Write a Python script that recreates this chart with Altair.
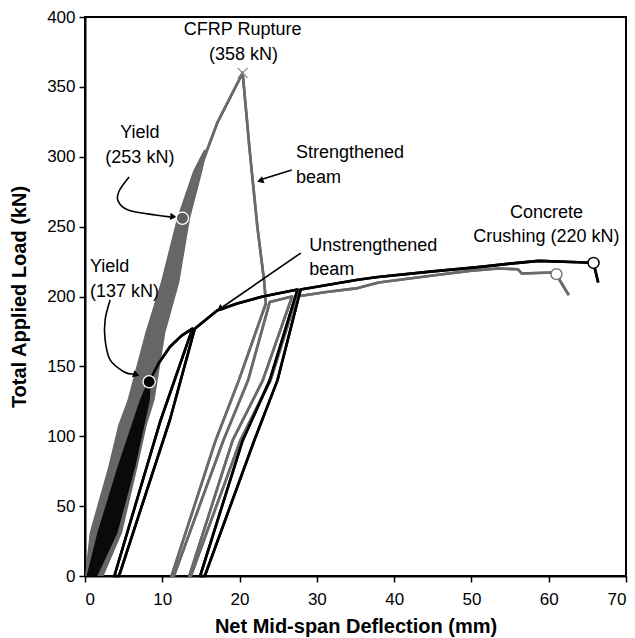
import altair as alt
import pandas as pd

FONT = "Liberation Sans"
GRAY = "#6a6a6a"
BLACK = "#000000"

# ---- Strengthened beam (gray): dense service cycles region ----
gw_load = [0, 31, 78, 108, 126, 174, 210, 256, 290, 305]
gw_left = [0.0, 0.6, 3.0, 4.3, 5.5, 7.8, 9.8, 11.9, 14.0, 15.4]
gw_right = [2.4, 4.8, 6.8, 8.0, 9.0, 10.4, 12.2, 13.6, 15.2, 15.8]

# ---- Unstrengthened beam (black): initial cycles region ----
bw_load = [0, 31, 78, 126, 139]
bw_left = [0.2, 1.6, 4.2, 7.1, 8.1]
bw_right = [1.6, 4.2, 6.5, 8.4, 8.5]

# ---- Strengthened beam path after service cycles ----
s_defl = [12.6, 14.8, 17.1, 20.4, 21.3, 22.3, 23.2, 23.4,
          19.9, 16.9, 11.2, 11.5, 17.9, 21.1, 23.9, 26.8,
          23.0, 19.1, 13.5, 13.7, 20.1, 24.0, 27.4,
          31.0, 35.3, 38.0, 45.0, 50.0, 53.5, 56.0, 56.5, 60.4, 61.0, 61.6, 62.6]
s_load = [256, 290, 324, 360, 305, 250, 210, 195,
          140, 97, 0, 0, 97, 140, 196, 200,
          140, 97, 0, 0, 97, 140, 200,
          203, 206, 210, 215, 218.5, 220, 219.5, 216.5, 217.2, 216, 210, 201]

# ---- Unstrengthened beam path after yield ----
u_defl = [8.3, 9.5, 11.0, 12.5, 13.9, 9.7, 3.8, 4.4, 11.0, 14.2,
          17.1, 19.7, 23.0, 27.5, 23.9, 20.4, 14.9, 15.5, 21.9, 24.9, 27.9,
          30.0, 35.3, 37.9, 45.0, 50.9, 55.0, 58.7, 63.9, 65.8, 66.4]
u_load = [139, 152, 164, 172, 177, 110, 0, 0, 112, 177,
          190, 195, 200, 205, 140, 97, 0, 0, 97, 140, 205,
          207, 212, 214, 218, 221, 223.5, 225.5, 224.5, 224, 210]

# ---- Key points ----
yield_s = (12.6, 256)
yield_u = (8.3, 139)
rupture = (20.4, 360)
crush_s = (61.0, 216)
crush_u = (65.8, 224)

# ---- Annotation texts ----
txt_label = ["CFRP Rupture", "(358 kN)", "Yield", "(253 kN)", "Strengthened", "beam",
             "Unstrengthened", "beam", "Yield", "(137 kN)", "Concrete", "Crushing (220 kN)"]
txt_x = [20.4, 20.5, 7.1, 7.1, 27.3, 27.3, 29.0, 29.0, 0.65, 0.65, 59.7, 59.7]
txt_y = [390.7, 372.8, 317.0, 299.1, 302.7, 284.8, 236.1, 219.0, 221.1, 203.2, 259.7, 242.6]
txt_align = ["center", "center", "center", "center", "left", "left",
             "left", "left", "left", "left", "center", "center"]

# ---- Arrow paths (deflection, load) ----
arr1_x = [5.71, 4.42, 4.29, 5.58, 9.09, 11.0]
arr1_y = [285.5, 275.5, 268.3, 261.9, 258.3, 257.0]
arr2_x = [3.25, 2.60, 2.60, 3.25, 5.06, 6.3]
arr2_y = [197.5, 183.2, 168.9, 154.6, 146.0, 144.4]
arr3_x = [26.75, 22.6]
arr3_y = [290.5, 283.4]
arr4_x = [27.92, 17.8]
arr4_y = [231.1, 192.5]
head_x = [11.3, 6.5, 22.8, 17.55]
head_y = [257.2, 144.2, 283.1, 191.6]
head_angle = [96, 109, 251, 235]

# ---------------- build tables ----------------
def path_rows(xs, ys, name, color):
    return [dict(x=a, y=b, path=name, ord=i, color=color) for i, (a, b) in enumerate(zip(xs, ys))]

lines_df = pd.DataFrame(path_rows(s_defl, s_load, "s", GRAY) + path_rows(u_defl, u_load, "u", BLACK))
gw_df = pd.DataFrame(dict(y=gw_load, x=gw_left, x2=gw_right))
bw_df = pd.DataFrame(dict(y=bw_load, x=bw_left, x2=bw_right))
arrows_df = pd.DataFrame(path_rows(arr1_x, arr1_y, "a1", BLACK) + path_rows(arr2_x, arr2_y, "a2", BLACK)
                         + path_rows(arr3_x, arr3_y, "a3", BLACK) + path_rows(arr4_x, arr4_y, "a4", BLACK))
heads_df = pd.DataFrame(dict(x=head_x, y=head_y, angle=head_angle))
text_df = pd.DataFrame(dict(x=txt_x, y=txt_y, label=txt_label, align=txt_align))

xs = alt.Scale(domain=[0, 70], nice=False, zero=False)
ys = alt.Scale(domain=[0, 400], nice=False)

X = alt.X("x:Q", scale=xs, title="Net Mid-span Deflection (mm)",
          axis=alt.Axis(values=list(range(0, 71, 10))))
Y = alt.Y("y:Q", scale=ys, title="Total Applied Load (kN)",
          axis=alt.Axis(values=list(range(0, 401, 50))))

gray_area = alt.Chart(gw_df).mark_area(orient="horizontal", color="#666666", opacity=1).encode(
    y=alt.Y("y:Q", scale=ys), x=alt.X("x:Q", scale=xs), x2="x2:Q")
black_area = alt.Chart(bw_df).mark_area(orient="horizontal", color="#0a0a0a", opacity=1).encode(
    y=alt.Y("y:Q", scale=ys), x=alt.X("x:Q", scale=xs), x2="x2:Q")

curves = alt.Chart(lines_df).mark_line(strokeWidth=2.6, strokeJoin="round").encode(
    x=X, y=Y, detail="path:N", order="ord:Q", color=alt.Color("color:N", scale=None))

arrows = alt.Chart(arrows_df).mark_line(strokeWidth=1.6, interpolate="cardinal", color=BLACK).encode(
    x=alt.X("x:Q", scale=xs), y=alt.Y("y:Q", scale=ys), detail="path:N", order="ord:Q")
heads = alt.Chart(heads_df).mark_point(shape="triangle", filled=True, size=55, color=BLACK, opacity=1).encode(
    x=alt.X("x:Q", scale=xs), y=alt.Y("y:Q", scale=ys), angle=alt.Angle("angle:Q", scale=None))

pts_fill = pd.DataFrame(dict(x=[yield_s[0], yield_u[0]], y=[yield_s[1], yield_u[1]],
                             c=["#5e5e5e", BLACK]))
filled_pts = alt.Chart(pts_fill).mark_point(shape="circle", filled=True, size=150, stroke="white",
                                            strokeWidth=1.3, opacity=1).encode(
    x=alt.X("x:Q", scale=xs), y=alt.Y("y:Q", scale=ys), fill=alt.Fill("c:N", scale=None))
pts_open = pd.DataFrame(dict(x=[crush_s[0], crush_u[0]], y=[crush_s[1], crush_u[1]],
                             c=["#777777", BLACK]))
open_pts = alt.Chart(pts_open).mark_point(shape="circle", filled=True, size=120, fill="white",
                                          strokeWidth=1.5, opacity=1).encode(
    x=alt.X("x:Q", scale=xs), y=alt.Y("y:Q", scale=ys), stroke=alt.Stroke("c:N", scale=None))
rup_df = pd.DataFrame(dict(x=[rupture[0]], y=[rupture[1]]))
rup_pt = alt.Chart(rup_df).mark_point(shape="M-1,-1L1,1M1,-1L-1,1", filled=False, size=100,
                                      stroke="#8a8a8a", strokeWidth=1.2, opacity=1).encode(
    x=alt.X("x:Q", scale=xs), y=alt.Y("y:Q", scale=ys))

texts_c = alt.Chart(text_df[text_df["align"] == "center"]).mark_text(
    align="center", baseline="middle", font=FONT, fontSize=18, color=BLACK).encode(
    x=alt.X("x:Q", scale=xs), y=alt.Y("y:Q", scale=ys), text="label:N")
texts_l = alt.Chart(text_df[text_df["align"] == "left"]).mark_text(
    align="left", baseline="middle", font=FONT, fontSize=18, color=BLACK).encode(
    x=alt.X("x:Q", scale=xs), y=alt.Y("y:Q", scale=ys), text="label:N")

chart = alt.layer(curves, gray_area, black_area, curves, arrows, heads, filled_pts, open_pts,
                  rup_pt, texts_c, texts_l).properties(
    width=541, height=559,
    padding={"left": 85, "top": 17, "right": 9, "bottom": 62},
    autosize=alt.AutoSizeParams(type="none"),
    background="white",
).configure_view(stroke=BLACK, strokeWidth=2).configure_axis(
    grid=False, domainColor=BLACK, domainWidth=2, tickColor=BLACK, tickWidth=1.5, tickSize=6,
    labelFont=FONT, labelFontSize=17, labelColor=BLACK, titleFont=FONT, titleFontSize=20,
    titleFontWeight="bold", titleColor=BLACK
).configure_axisX(labelPadding=9, titlePadding=9).configure_axisY(labelPadding=4, titlePadding=17)

chart.save("out.html", embed_options={"renderer": "svg", "actions": False})
